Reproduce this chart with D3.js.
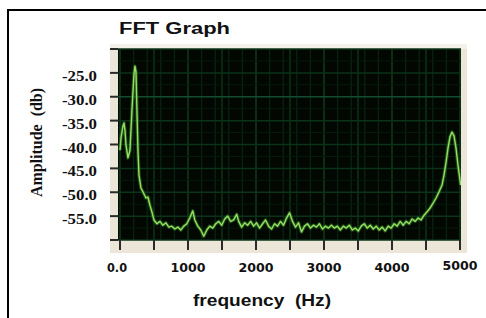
<!DOCTYPE html>
<html>
<head>
<meta charset="utf-8">
<script src="https://cdn.jsdelivr.net/npm/d3@7"></script>
<style>
  html, body { margin: 0; padding: 0; background: #fff; }
  svg { display: block; }
  text { white-space: pre; }
</style>
</head>
<body>
<svg id="chart" width="486" height="318"></svg>
<script>
// spectrum (Hz, dB)
const freqHz = [0, 15, 44, 59, 73, 88, 117, 147, 176, 205, 220, 235, 249, 264, 279, 308, 337, 381, 411, 440,
  469, 499, 543, 587, 631, 675, 718, 762, 806, 850, 894, 938, 982, 1026, 1070, 1100, 1144, 1188, 1232, 1276,
  1320, 1364, 1408, 1452, 1496, 1540, 1584, 1628, 1672, 1716, 1745, 1789, 1833, 1877, 1921, 1965, 2009, 2053, 2097, 2141,
  2185, 2229, 2273, 2317, 2361, 2405, 2449, 2493, 2537, 2581, 2625, 2669, 2713, 2757, 2801, 2845, 2889, 2933, 2977, 3021,
  3065, 3109, 3152, 3196, 3240, 3284, 3328, 3372, 3416, 3460, 3504, 3548, 3592, 3636, 3680, 3724, 3768, 3812, 3856, 3900,
  3944, 3988, 4032, 4076, 4120, 4164, 4208, 4252, 4296, 4340, 4384, 4428, 4472, 4516, 4560, 4604, 4648, 4692, 4736, 4765,
  4795, 4824, 4853, 4882, 4912, 4941, 4970, 5000, 5010];
const ampDb = [-41.2, -38.6, -36.1, -35.5, -37.0, -40.1, -42.8, -41.2, -32.8, -25.4, -23.6, -24.8, -32.8, -41.2, -46.4, -49.1, -49.9, -51.2, -51.0, -52.7,
  -54.1, -55.8, -56.6, -56.1, -56.9, -56.4, -57.3, -57.1, -57.7, -57.3, -57.9, -57.1, -56.6, -55.4, -53.9, -55.8, -57.1, -57.9, -59.2, -57.9,
  -57.1, -57.5, -56.6, -56.1, -56.9, -55.6, -55.0, -56.1, -55.8, -54.6, -56.1, -57.3, -56.4, -56.9, -56.1, -57.1, -56.4, -57.5, -56.6, -55.8,
  -57.1, -57.7, -56.6, -57.1, -56.1, -56.9, -55.4, -54.3, -56.1, -57.3, -56.4, -58.3, -57.1, -56.6, -57.5, -56.9, -57.3, -56.6, -57.7, -57.1,
  -57.5, -56.9, -57.5, -57.1, -57.9, -57.1, -57.5, -56.9, -57.9, -57.5, -58.1, -57.1, -56.6, -57.5, -56.9, -57.7, -57.1, -57.9, -57.3, -58.1,
  -57.1, -57.5, -56.6, -57.1, -56.1, -56.9, -56.1, -56.6, -55.6, -56.1, -55.4, -55.8, -54.8, -54.1, -53.3, -52.3, -51.2, -49.9, -48.5, -46.4,
  -43.7, -40.7, -38.4, -37.4, -38.2, -40.7, -44.3, -47.4, -48.5];

const xTicks = [0, 500, 1000, 1500, 2000, 2500, 3000, 3500, 4000, 4500, 5000];
const xLabelVals = [0, 1000, 2000, 3000, 4000, 5000];
const xLabelText = ['0.0', '1000', '2000', '3000', '4000', '5000'];
const yTicks = [-20, -25, -30, -35, -40, -45, -50, -55, -60];
const yLabelVals = [-25, -30, -35, -40, -45, -50, -55];

const svg = d3.select('#chart');
const box = { left: 118, right: 461, top: 49, bottom: 240 };
const x = d3.scaleLinear().domain([0, 5000]).range([120, 460]);
const y = d3.scaleLinear().domain([-60, -20]).range([240, 49]);

// outer frame (top and left edges only, the rest is cropped)
svg.append('path')
    .attr('d', 'M8,318V10H486')
    .attr('fill', 'none')
    .attr('stroke', '#000')
    .attr('stroke-width', 2);

// beige panel behind the plot
svg.append('rect')
    .attr('x', 110).attr('y', 44)
    .attr('width', 357).attr('height', 209)
    .attr('fill', '#ebe6d8');
svg.append('rect')
    .attr('x', 110).attr('y', 44)
    .attr('width', 357).attr('height', 5)
    .attr('fill', '#f4f1e8');

// plot background
svg.append('rect')
    .attr('x', box.left).attr('y', box.top)
    .attr('width', box.right - box.left).attr('height', box.bottom - box.top)
    .attr('fill', '#020702');

const grid = svg.append('g');
grid.selectAll('.vminor')
    .data(x.ticks(25))
    .join('line')
    .attr('x1', d => x(d)).attr('x2', d => x(d))
    .attr('y1', box.top).attr('y2', box.bottom)
    .attr('stroke', '#072010').attr('stroke-width', 1.5);
grid.selectAll('.vmajor')
    .data(xTicks)
    .join('line')
    .attr('x1', d => x(d)).attr('x2', d => x(d))
    .attr('y1', box.top).attr('y2', box.bottom)
    .attr('stroke', '#0c3516').attr('stroke-width', 1.5);
grid.selectAll('.hminor')
    .data(d3.range(-57.5, -20, 5))
    .join('line')
    .attr('x1', box.left).attr('x2', box.right)
    .attr('y1', d => y(d)).attr('y2', d => y(d))
    .attr('stroke', '#061a0b').attr('stroke-width', 1);
grid.selectAll('.hmajor')
    .data(yTicks)
    .join('line')
    .attr('x1', box.left).attr('x2', box.right)
    .attr('y1', d => y(d)).attr('y2', d => y(d))
    .attr('stroke', d => d === -30 ? '#124d30' : '#0b331a').attr('stroke-width', 1.5);

// ticks on the beige frame
svg.append('g').selectAll('line')
    .data(yTicks)
    .join('line')
    .attr('x1', 110).attr('x2', box.left)
    .attr('y1', d => y(d)).attr('y2', d => y(d))
    .attr('stroke', '#2a2a2a').attr('stroke-width', 2);
svg.append('g').selectAll('line')
    .data(xTicks)
    .join('line')
    .attr('x1', d => x(d)).attr('x2', d => x(d))
    .attr('y1', box.bottom).attr('y2', box.bottom + 10)
    .attr('stroke', '#2a2a2a').attr('stroke-width', 2);

// spectrum line
const pts = freqHz.map((f, i) => [f, ampDb[i]]);
const line = d3.line().x(d => x(d[0])).y(d => y(d[1]));
svg.append('clipPath').attr('id', 'clip')
    .append('rect')
    .attr('x', box.left).attr('y', box.top)
    .attr('width', box.right - box.left).attr('height', box.bottom - box.top);
const curve = svg.append('g').attr('clip-path', 'url(#clip)');
curve.append('path')
    .attr('d', line(pts))
    .attr('fill', 'none')
    .attr('stroke', '#2f7a22')
    .attr('stroke-opacity', 0.6)
    .attr('stroke-width', 3.5)
    .attr('stroke-linejoin', 'round');
curve.append('path')
    .attr('d', line(pts))
    .attr('fill', 'none')
    .attr('stroke', '#96de62')
    .attr('stroke-width', 1.4)
    .attr('stroke-linejoin', 'round');

// texts
svg.append('text')
    .attr('x', 119).attr('y', 34)
    .attr('textLength', 111).attr('lengthAdjust', 'spacingAndGlyphs')
    .style('font', 'bold 16px "Liberation Sans", Arial, sans-serif')
    .attr('fill', '#111')
    .text('FFT Graph');

svg.append('text')
    .attr('transform', 'translate(42,142.5) rotate(-90)')
    .attr('text-anchor', 'middle')
    .attr('textLength', 109).attr('lengthAdjust', 'spacingAndGlyphs')
    .style('font', 'bold 16px "Liberation Serif", "Times New Roman", serif')
    .attr('fill', '#111')
    .text('Amplitude  (db)');

svg.append('g').selectAll('text')
    .data(yLabelVals)
    .join('text')
    .attr('x', 97)
    .attr('y', d => y(d) + 8)
    .attr('text-anchor', 'end')
    .attr('textLength', 35).attr('lengthAdjust', 'spacingAndGlyphs')
    .style('font', 'bold 14px "Liberation Serif", "Times New Roman", serif')
    .attr('fill', '#111')
    .text(d => d.toFixed(1));

svg.append('g').selectAll('text')
    .data(xLabelVals)
    .join('text')
    .attr('x', d => x(d) - (d === 0 ? 3 : 0))
    .attr('y', d => d === 5000 ? 270 : 272)
    .attr('text-anchor', 'middle')
    .attr('textLength', (d, i) => xLabelText[i].length === 3 ? 20 : 35)
    .attr('lengthAdjust', 'spacingAndGlyphs')
    .style('font', 'bold 13px "DejaVu Sans", Verdana, sans-serif')
    .attr('fill', '#111')
    .text((d, i) => xLabelText[i]);

svg.append('text')
    .attr('x', 193).attr('y', 306)
    .attr('textLength', 138).attr('lengthAdjust', 'spacingAndGlyphs')
    .style('font', 'bold 16px "Liberation Sans", Arial, sans-serif')
    .attr('fill', '#111')
    .text('frequency  (Hz)');
</script>
</body>
</html>
